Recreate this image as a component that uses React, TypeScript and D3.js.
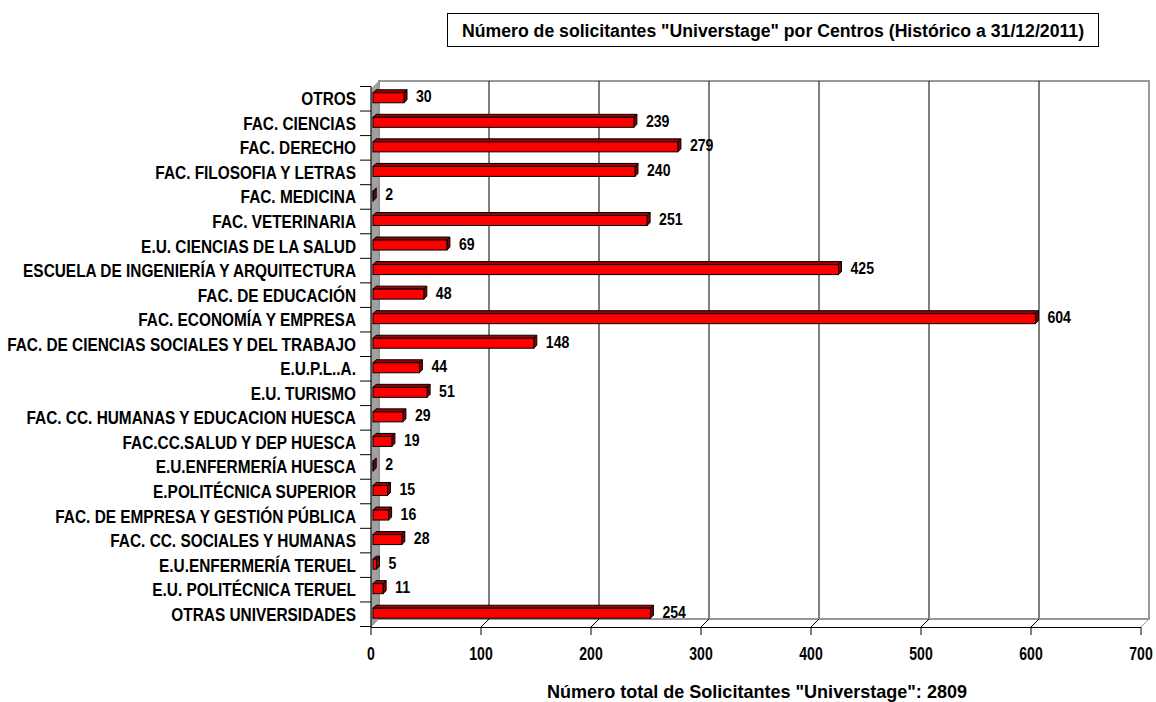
import React from 'react';
import * as d3 from 'd3';

const categories = [
  'OTROS',
  'FAC. CIENCIAS',
  'FAC. DERECHO',
  'FAC. FILOSOFIA Y LETRAS',
  'FAC. MEDICINA',
  'FAC. VETERINARIA',
  'E.U. CIENCIAS DE LA SALUD',
  'ESCUELA DE INGENIERÍA Y ARQUITECTURA',
  'FAC. DE EDUCACIÓN',
  'FAC. ECONOMÍA Y EMPRESA',
  'FAC. DE CIENCIAS SOCIALES Y DEL TRABAJO',
  'E.U.P.L..A.',
  'E.U. TURISMO',
  'FAC. CC. HUMANAS Y EDUCACION HUESCA',
  'FAC.CC.SALUD Y DEP HUESCA',
  'E.U.ENFERMERÍA HUESCA',
  'E.POLITÉCNICA SUPERIOR',
  'FAC. DE EMPRESA Y GESTIÓN PÚBLICA',
  'FAC. CC. SOCIALES Y HUMANAS',
  'E.U.ENFERMERÍA TERUEL',
  'E.U. POLITÉCNICA TERUEL',
  'OTRAS UNIVERSIDADES',
];

const values = [30, 239, 279, 240, 2, 251, 69, 425, 48, 604, 148, 44, 51, 29, 19, 2, 15, 16, 28, 5, 11, 254];

const xTicks = [0, 100, 200, 300, 400, 500, 600, 700];

const titleText = 'Número de solicitantes "Universtage" por Centros (Histórico a 31/12/2011)';
const axisTitle = 'Número total de Solicitantes "Universtage": 2809';

const FONT = '"Liberation Sans", Arial, sans-serif';

// Arial Narrow look-alike: bold Liberation Sans squeezed horizontally
const NarrowText = ({ x, y, anchor = 'start', size = 17, squeeze = 0.85, children }:
  { x: number; y: number; anchor?: string; size?: number; squeeze?: number; children: React.ReactNode }) => (
  <g transform={`translate(${x},${y}) scale(${squeeze},1)`}>
    <text x={0} y={0} textAnchor={anchor} fontSize={size} fontFamily={FONT} fontWeight="bold" fill="#000" stroke="none">
      {children}
    </text>
  </g>
);

const App = () => {
  const width = 1156;
  const height = 702;

  // front plane of the 3D box, back plane shifted by depth
  const front = { left: 371, right: 1141, top: 89, bottom: 627 };
  const depth = { dx: 8, dy: -8 };

  const x = d3.scaleLinear().domain([0, 700]).range([front.left, front.right]);
  const xBack = (v: number) => x(v) + depth.dx;
  const y = d3.scaleBand<string>().domain(categories).range([86, 626]);

  const backTop = front.top + depth.dy;
  const backBottom = front.bottom + depth.dy;

  const barH = 10;
  const barD = 3;

  return (
    <svg width={width} height={height} style={{ position: 'absolute', left: 0, top: 0, background: '#fff' }}>
      {/* title box */}
      <rect x={447.5} y={13.5} width={651} height={33} fill="#fff" stroke="#000" strokeWidth={1} />
      <NarrowText x={773} y={37} anchor="middle" size={19} squeeze={0.93}>{titleText}</NarrowText>

      {/* back wall */}
      <rect x={xBack(0)} y={backTop} width={xBack(700) - xBack(0)} height={backBottom - backTop}
        fill="#fff" stroke="#999" strokeWidth={2} />
      {xTicks.slice(1, -1).map(t => (
        <line key={'g' + t} x1={xBack(t)} x2={xBack(t)} y1={backTop} y2={backBottom} stroke="#000" strokeWidth={1} />
      ))}

      {/* floor */}
      <line x1={xBack(0)} x2={xBack(700)} y1={backBottom} y2={backBottom} stroke="#999" strokeWidth={1.5} />
      {xTicks.slice(1).map(t => (
        <line key={'f' + t} x1={xBack(t)} y1={backBottom} x2={x(t)} y2={front.bottom}
          stroke={t === 700 ? '#999' : '#000'} strokeWidth={1} />
      ))}

      {/* left wall */}
      <polygon
        points={`${front.left},${front.top} ${xBack(0)},${backTop} ${xBack(0)},${backBottom} ${front.left},${front.bottom}`}
        fill="#a0a0a0" stroke="#808080" strokeWidth={0.5} />
      <line x1={front.left} x2={front.left} y1={front.top - 3} y2={front.bottom} stroke="#000" strokeWidth={1} />

      {/* category ticks */}
      {categories.map(c => (
        <line key={'t' + c} x1={360} x2={front.left} y1={(y(c) ?? 0) + 0.5} y2={(y(c) ?? 0) + 0.5} stroke="#000" />
      ))}
      <line x1={360} x2={front.left} y1={626.5} y2={626.5} stroke="#000" />

      {/* bottom axis */}
      <line x1={front.left} x2={front.right} y1={front.bottom + 0.5} y2={front.bottom + 0.5} stroke="#000" />
      {xTicks.map(t => (
        <g key={'x' + t}>
          <line x1={x(t)} x2={x(t)} y1={front.bottom} y2={front.bottom + 8} stroke="#000" />
          <NarrowText x={x(t)} y={660} anchor="middle" size={18} squeeze={0.78}>{t}</NarrowText>
        </g>
      ))}

      {/* category labels */}
      {categories.map(c => (
        <NarrowText key={'l' + c} x={356} y={(y(c) ?? 0) + y.bandwidth() / 2 + 7} anchor="end" size={17.7} squeeze={0.87}>{c}</NarrowText>
      ))}

      {/* bars */}
      {categories.map((c, i) => {
        const v = values[i];
        const x0 = x(0) + 2;
        const x1 = x(v);
        const mid = (y(c) ?? 0) + y.bandwidth() / 2;
        const fy = mid - 2 - barH / 2 + 1.5;
        return (
          <g key={'b' + c}>
            <g stroke="#000" strokeWidth={1}>
              <polygon points={`${x0},${fy} ${x0 + barD},${fy - barD} ${x1 + barD},${fy - barD} ${x1},${fy}`} fill="#a00000" />
              <polygon points={`${x1},${fy} ${x1 + barD},${fy - barD} ${x1 + barD},${fy - barD + barH} ${x1},${fy + barH}`} fill="#800000" />
              <rect x={x0} y={fy} width={Math.max(x1 - x0, 0.5)} height={barH} fill="#ff0000" />
            </g>
            <NarrowText x={x1 + barD + 9} y={mid + 4} size={17} squeeze={0.83}>{v}</NarrowText>
          </g>
        );
      })}

      {/* axis title */}
      <NarrowText x={757} y={698} anchor="middle" size={19} squeeze={0.95}>{axisTitle}</NarrowText>
    </svg>
  );
};

export default App;
